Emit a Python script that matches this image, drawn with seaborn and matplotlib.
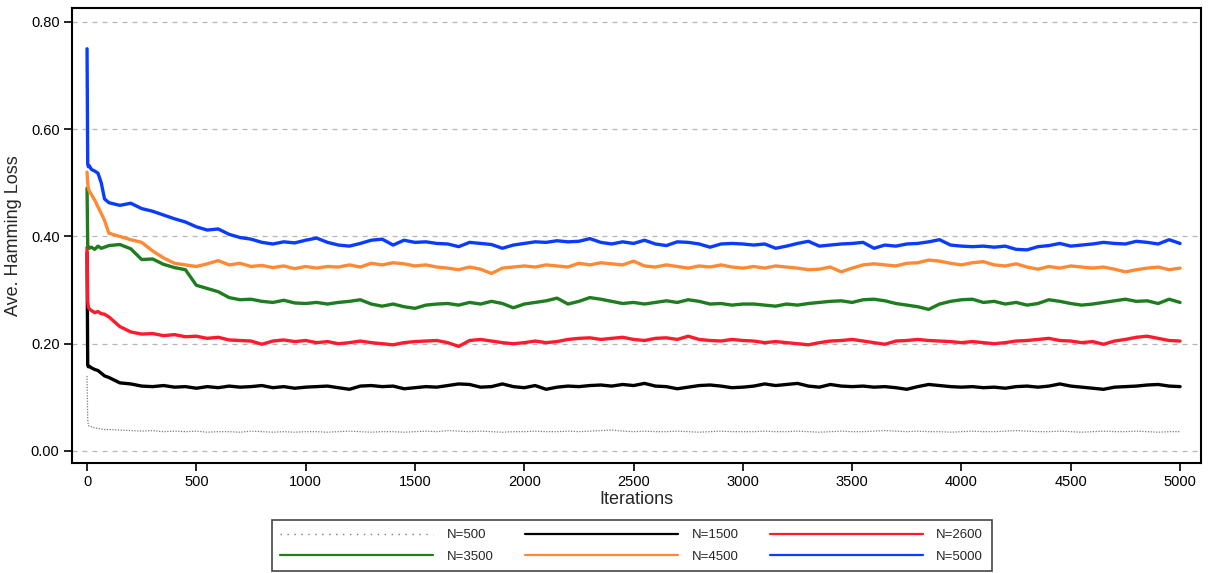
import matplotlib
matplotlib.use("Agg")
import matplotlib.pyplot as plt
import seaborn as sns
import pandas as pd

# ---------------- data ----------------
ITERATIONS = [0, 3, 6, 10, 20, 35, 50, 65, 80, 100] + list(range(150, 5001, 50))

N500 = [0.140, 0.060, 0.048, 0.046, 0.045, 0.043, 0.042, 0.041, 0.040, 0.040,
        0.039, 0.038, 0.037, 0.038, 0.036, 0.037, 0.036, 0.037, 0.035, 0.036,
        0.036, 0.035, 0.037, 0.036, 0.035, 0.036, 0.035, 0.036,
        0.036, 0.035, 0.036, 0.037, 0.036, 0.035, 0.036, 0.036, 0.035, 0.036,
        0.037, 0.036, 0.038, 0.037, 0.036, 0.037, 0.036, 0.035, 0.036, 0.036,
        0.037, 0.036, 0.036, 0.037, 0.036, 0.037, 0.038, 0.039, 0.037, 0.036,
        0.037, 0.036, 0.036, 0.037, 0.036, 0.035, 0.036, 0.037, 0.036, 0.036,
        0.036, 0.037, 0.036, 0.036, 0.037, 0.036, 0.035, 0.036, 0.037, 0.036,
        0.036, 0.037, 0.038, 0.037, 0.036, 0.037, 0.036, 0.036, 0.035, 0.036,
        0.037, 0.036, 0.036, 0.037, 0.038, 0.037, 0.036, 0.036, 0.037, 0.036,
        0.035, 0.036, 0.037, 0.036, 0.036, 0.037, 0.036, 0.035, 0.036, 0.036]

N1500 = [0.370, 0.160, 0.157, 0.158, 0.155, 0.152, 0.150, 0.145, 0.140, 0.137,
         0.127, 0.125, 0.121, 0.120, 0.122, 0.119, 0.120, 0.117, 0.120, 0.118,
         0.121, 0.119, 0.120, 0.122, 0.118, 0.120, 0.117, 0.119,
         0.120, 0.121, 0.118, 0.115, 0.121, 0.122, 0.120, 0.121, 0.116, 0.118,
         0.120, 0.119, 0.122, 0.125, 0.124, 0.119, 0.120, 0.125, 0.120, 0.118,
         0.122, 0.115, 0.119, 0.121, 0.120, 0.122, 0.123, 0.121, 0.124, 0.122,
         0.126, 0.121, 0.120, 0.116, 0.119, 0.122, 0.123, 0.121, 0.118, 0.119,
         0.121, 0.125, 0.122, 0.124, 0.126, 0.121, 0.119, 0.124, 0.121, 0.120,
         0.121, 0.119, 0.120, 0.118, 0.115, 0.120, 0.124, 0.122, 0.120, 0.119,
         0.120, 0.118, 0.119, 0.117, 0.120, 0.121, 0.119, 0.121, 0.125, 0.121,
         0.119, 0.117, 0.115, 0.119, 0.120, 0.121, 0.123, 0.124, 0.121, 0.120]

N2600 = [0.380, 0.280, 0.268, 0.265, 0.262, 0.258, 0.260, 0.256, 0.255, 0.250,
         0.232, 0.222, 0.218, 0.219, 0.215, 0.217, 0.213, 0.214, 0.210, 0.212,
         0.207, 0.206, 0.205, 0.199, 0.205, 0.207, 0.204, 0.206,
         0.202, 0.204, 0.200, 0.202, 0.205, 0.202, 0.200, 0.198, 0.202, 0.204,
         0.205, 0.206, 0.202, 0.195, 0.206, 0.208, 0.205, 0.202, 0.200, 0.202,
         0.205, 0.202, 0.204, 0.208, 0.210, 0.211, 0.208, 0.210, 0.212, 0.208,
         0.206, 0.210, 0.211, 0.208, 0.214, 0.208, 0.206, 0.205, 0.208, 0.206,
         0.205, 0.202, 0.204, 0.202, 0.200, 0.198, 0.202, 0.205, 0.206, 0.208,
         0.205, 0.202, 0.199, 0.205, 0.206, 0.208, 0.206, 0.205, 0.204, 0.202,
         0.204, 0.202, 0.200, 0.202, 0.205, 0.206, 0.208, 0.210, 0.206, 0.205,
         0.202, 0.204, 0.199, 0.205, 0.208, 0.212, 0.214, 0.210, 0.206, 0.205]

N3500 = [0.490, 0.385, 0.380, 0.378, 0.380, 0.376, 0.382, 0.378, 0.380, 0.383,
         0.385, 0.377, 0.357, 0.358, 0.348, 0.342, 0.338, 0.309, 0.303, 0.297,
         0.286, 0.282, 0.283, 0.279, 0.277, 0.281, 0.276, 0.275,
         0.277, 0.274, 0.277, 0.279, 0.282, 0.274, 0.270, 0.274, 0.269, 0.266,
         0.272, 0.274, 0.275, 0.272, 0.277, 0.274, 0.279, 0.275, 0.267, 0.274,
         0.277, 0.280, 0.285, 0.274, 0.279, 0.286, 0.283, 0.279, 0.275, 0.277,
         0.274, 0.277, 0.280, 0.277, 0.282, 0.279, 0.274, 0.275, 0.272, 0.274,
         0.274, 0.272, 0.270, 0.274, 0.272, 0.275, 0.277, 0.279, 0.280, 0.277,
         0.282, 0.283, 0.280, 0.275, 0.272, 0.269, 0.264, 0.274, 0.279, 0.282,
         0.283, 0.277, 0.279, 0.274, 0.277, 0.272, 0.275, 0.282, 0.279, 0.275,
         0.272, 0.274, 0.277, 0.280, 0.283, 0.279, 0.280, 0.275, 0.283, 0.277]

N4500 = [0.520, 0.500, 0.490, 0.485, 0.478, 0.468, 0.455, 0.443, 0.430, 0.406,
         0.400, 0.394, 0.389, 0.373, 0.360, 0.350, 0.347, 0.344, 0.349, 0.355,
         0.347, 0.350, 0.344, 0.346, 0.342, 0.345, 0.340, 0.344,
         0.341, 0.344, 0.343, 0.347, 0.343, 0.350, 0.347, 0.351, 0.349, 0.345,
         0.347, 0.343, 0.341, 0.338, 0.343, 0.339, 0.331, 0.341, 0.343, 0.345,
         0.343, 0.347, 0.345, 0.343, 0.350, 0.347, 0.351, 0.349, 0.347, 0.354,
         0.345, 0.343, 0.347, 0.344, 0.341, 0.345, 0.343, 0.347, 0.343, 0.341,
         0.344, 0.341, 0.345, 0.343, 0.341, 0.338, 0.339, 0.343, 0.334, 0.341,
         0.347, 0.349, 0.347, 0.345, 0.350, 0.351, 0.356, 0.354, 0.350, 0.347,
         0.351, 0.353, 0.347, 0.345, 0.349, 0.343, 0.339, 0.344, 0.341, 0.345,
         0.343, 0.341, 0.343, 0.339, 0.334, 0.338, 0.341, 0.343, 0.338, 0.341]

N5000 = [0.750, 0.535, 0.530, 0.532, 0.525, 0.522, 0.518, 0.500, 0.470, 0.463,
         0.458, 0.462, 0.452, 0.447, 0.440, 0.433, 0.427, 0.418, 0.412, 0.414,
         0.404, 0.398, 0.395, 0.389, 0.386, 0.390, 0.388, 0.393,
         0.397, 0.389, 0.384, 0.382, 0.387, 0.393, 0.395, 0.384, 0.393, 0.389,
         0.390, 0.387, 0.386, 0.381, 0.389, 0.387, 0.385, 0.378, 0.384, 0.387,
         0.390, 0.389, 0.392, 0.390, 0.391, 0.396, 0.389, 0.386, 0.390, 0.387,
         0.393, 0.386, 0.383, 0.390, 0.389, 0.386, 0.380, 0.386, 0.387, 0.386,
         0.384, 0.386, 0.378, 0.382, 0.387, 0.391, 0.382, 0.384, 0.386, 0.387,
         0.389, 0.378, 0.384, 0.382, 0.386, 0.387, 0.390, 0.394, 0.384, 0.382,
         0.381, 0.382, 0.380, 0.382, 0.376, 0.375, 0.381, 0.383, 0.387, 0.382,
         0.384, 0.386, 0.389, 0.387, 0.386, 0.391, 0.389, 0.386, 0.394, 0.387]

SERIES_LABELS = ["N=500", "N=1500", "N=2600", "N=3500", "N=4500", "N=5000"]
SERIES_VALUES = [N500, N1500, N2600, N3500, N4500, N5000]
Y_TICKS = [0.0, 0.2, 0.4, 0.6, 0.8]
X_TICKS = list(range(0, 5001, 500))

# ---------------- style ----------------
COLORS = ["#7a7a7a", "#000000", "#ff1a2e", "#1e7d1e", "#ff8a35", "#0a3cff"]
WIDTHS = [0.9, 2.4, 2.4, 2.4, 2.4, 2.4]
STYLES = [(0, (1, 1.2)), "-", "-", "-", "-", "-"]

sns.set_style("ticks")
plt.rcParams["font.family"] = ["Liberation Sans", "DejaVu Sans"]

fig = plt.figure(figsize=(12.11, 5.73), dpi=100)
ax = fig.add_axes([0.0595, 0.192, 0.9322, 0.794])

for yv in Y_TICKS:
    ax.axhline(yv, color="#b5b5b5", lw=0.9, ls=(0, (4, 4)), zorder=0)

for lab, vals, col, lw, st in zip(SERIES_LABELS, SERIES_VALUES, COLORS, WIDTHS, STYLES):
    df = pd.DataFrame({"Iterations": ITERATIONS, "loss": vals})
    sns.lineplot(data=df, x="Iterations", y="loss", ax=ax, color=col,
                 linewidth=lw, linestyle=st, label=lab, zorder=3)

ax.set_xlim(-68.6, 5095.6)
ax.set_ylim(-0.0224, 0.826)
ax.set_xticks(X_TICKS)
ax.set_xticklabels([str(t) for t in X_TICKS])
ax.set_yticks(Y_TICKS)
ax.set_yticklabels([f"{t:.2f}" for t in Y_TICKS])
ax.tick_params(axis="both", direction="out", length=6, width=1.2, labelsize=10.5,
               colors="black", pad=3)
ax.set_xlabel("Iterations", fontsize=13, labelpad=1)
ax.set_ylabel("Ave. Hamming Loss", fontsize=13, labelpad=6)
for sp in ax.spines.values():
    sp.set_visible(True)
    sp.set_color("black")
    sp.set_linewidth(1.5)

ax.get_legend().remove()
handles, labels = ax.get_legend_handles_labels()
order = [0, 3, 1, 4, 2, 5]  # row-major reading order in a 3-column legend
handles = [handles[i] for i in order]
labels = [labels[i] for i in order]
leg = fig.legend(handles, labels, loc="lower left", ncol=3, mode="expand",
                 bbox_to_anchor=(0.2244, 0.003, 0.5946, 0.09),
                 fontsize=9.5, handlelength=11.6, handletextpad=1.0,
                 frameon=True, fancybox=False, framealpha=1,
                 edgecolor="#444444", borderaxespad=0.0, borderpad=0.65,
                 labelspacing=0.7)
leg.get_frame().set_linewidth(1.2)
for lh, lab in zip(leg.get_lines(), labels):
    if lab == "N=500":
        lh.set_linewidth(1.0)
        lh.set_linestyle((0, (1, 4.0)))
    else:
        lh.set_linewidth(1.6)

fig.savefig("out.png", dpi=100)
